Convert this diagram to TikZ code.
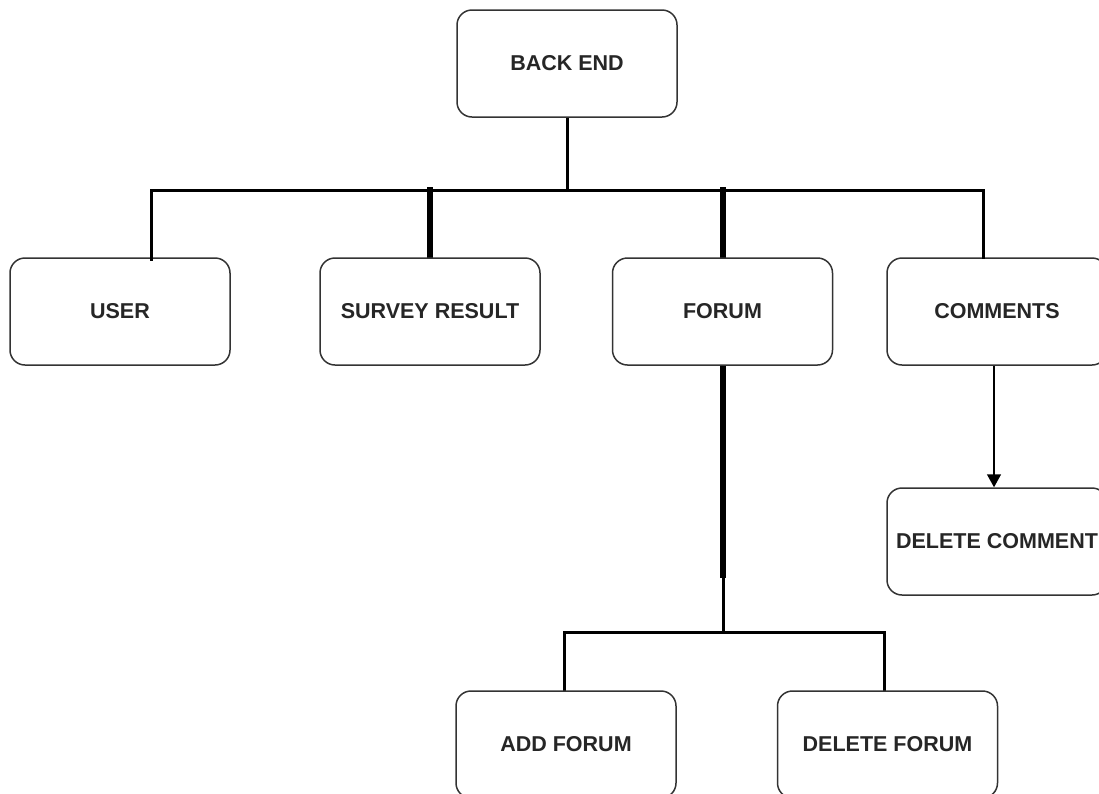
\documentclass[tikz,border=0pt]{standalone}
\usepackage{fontspec}
\setmainfont{Liberation Sans}
\usetikzlibrary{arrows.meta,calc}
\definecolor{boxline}{HTML}{333333}
\definecolor{txt}{HTML}{262626}
\begin{document}
\begin{tikzpicture}[x=1pt,y=-1pt,
  box/.style={draw=boxline, line width=1.5pt, rounded corners=15pt, fill=white,
    minimum width=220pt, minimum height=107pt, inner sep=0pt, text=txt,
    font=\fontsize{21.5}{25}\selectfont\bfseries},
  link/.style={line width=3pt, black, line join=miter},
  trunk/.style={line width=6.5pt, black},
  arrowlink/.style={line width=1.5pt, black, -{Triangle[length=13pt,width=14pt]}}]
\useasboundingbox (0,0) rectangle (1099,793);

% connector junction points
\coordinate (busL) at (151,190);
\coordinate (busR) at (983,190);
\coordinate (busM) at (567,190);
\coordinate (fj) at (723,578);
\coordinate (fbus) at (723,632);
\coordinate (fbusL) at (564,632);
\coordinate (fbusR) at (884,632);
\coordinate (cx) at (994,0);

% connectors (drawn first, boxes sit on top)
\draw[link] (567,117) coordinate (beS) -- (busM);
\draw[link] ($(busL)+(0,72)$) -- (busL) -- (busR) -- ($(busR)+(0,70)$);
\draw[trunk] (430,258) -- (430,187);
\draw[trunk] (723,258) -- (723,187);
\draw[trunk] (723,365) -- (fj);
\draw[link] (fj) -- (fbus);
\draw[link] ($(fbusL)+(0,59)$) -- (fbusL) -- (fbusR) -- ($(fbusR)+(0,59)$);

% boxes
\node[box] (be)  at (567,63.5)   {BACK END};
\node[box] (user) at (120,311.5) {USER};
\node[box] (survey) at (430,311.5) {SURVEY RESULT};
\node[box] (forum) at (722.5,311.5) {FORUM};
\node[box] (comments) at (997,311.5) {COMMENTS};
\node[box] (delc) at (997,541.5) {DELETE COMMENT};
\node[box] (addf) at (566,744.5) {ADD FORUM};
\node[box] (delf) at (887.5,744.5) {DELETE FORUM};

% the drops that overlap the box tops
\draw[link] (busL) -- ($(busL |- user.north)+(0,4)$);
\draw[link] (busR) -- ($(busR |- comments.north)+(0,2)$);

% COMMENTS to DELETE COMMENT
\draw[arrowlink] (cx |- comments.south) -- (cx |- delc.north);
\end{tikzpicture}
\end{document}
